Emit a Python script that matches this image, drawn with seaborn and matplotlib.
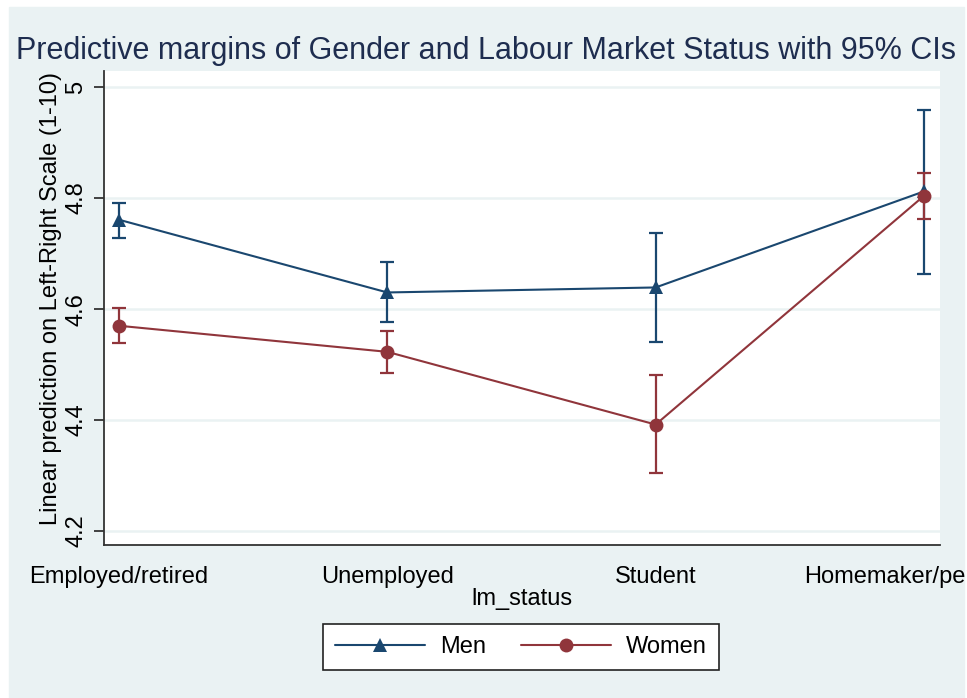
import matplotlib
matplotlib.use("Agg")
import matplotlib.pyplot as plt
import numpy as np
import pandas as pd
import seaborn as sns

# margins
status = ["Employed/retired", "Unemployed", "Student", "Homemaker/pensioner"]
men = [4.761, 4.630, 4.639, 4.812]
men_lo = [4.729, 4.576, 4.541, 4.664]
men_hi = [4.792, 4.684, 4.737, 4.959]
women = [4.570, 4.523, 4.392, 4.804]
women_lo = [4.539, 4.485, 4.304, 4.762]
women_hi = [4.602, 4.561, 4.481, 4.846]

df = pd.DataFrame({
    "pos": list(range(len(status))) * 2,
    "margin": men + women,
    "lo": men_lo + women_lo,
    "hi": men_hi + women_hi,
    "gender": ["Men"] * 4 + ["Women"] * 4,
})

colors = {"Men": "#1A476F", "Women": "#90353B"}
bg = "#EAF2F3"

sns.set_style("white")
plt.rcParams["font.family"] = ["Liberation Sans", "DejaVu Sans"]
plt.rcParams["text.color"] = "black"
plt.rcParams["axes.labelcolor"] = "black"
plt.rcParams["xtick.labelcolor"] = "black"
plt.rcParams["ytick.labelcolor"] = "black"

fig = plt.figure(figsize=(9.67, 6.98), dpi=100)
fig.patch.set_facecolor("white")
fig.patches.append(plt.Rectangle((9 / 967, 0), (964 - 9) / 967, 1 - 7 / 698,
                                 transform=fig.transFigure, color=bg, zorder=-10))

ax = fig.add_axes([104 / 967, 1 - 545 / 698, (940 - 104) / 967, (545 - 71) / 698])
ax.set_facecolor("white")

# error bars first so the markers sit on top
for g, sub in df.groupby("gender"):
    ax.errorbar(sub["pos"], sub["margin"],
                yerr=[sub["margin"] - sub["lo"], sub["hi"] - sub["margin"]],
                fmt="none", ecolor=colors[g], elinewidth=1.6, capsize=5, capthick=1.6, zorder=3)

sns.lineplot(data=df, x="pos", y="margin", hue="gender", style="gender",
             markers={"Men": "^", "Women": "o"}, dashes=False, palette=colors,
             linewidth=1.5, markersize=10, markeredgewidth=0, ax=ax, zorder=4)

ax.set_xlim(-0.056, 3.06)
ax.set_ylim(4.175, 5.029)
ax.set_xticks(range(len(status)))
ax.set_xticklabels(status)
ax.set_yticks([4.2, 4.4, 4.6, 4.8, 5.0])
ax.set_yticklabels(["4.2", "4.4", "4.6", "4.8", "5"])
ax.grid(axis="y", color=bg, linewidth=1.8)
ax.set_axisbelow(True)

for s in ["top", "right"]:
    ax.spines[s].set_visible(False)
for s in ["left", "bottom"]:
    ax.spines[s].set_color("#333333")
    ax.spines[s].set_linewidth(1.3)

ax.tick_params(axis="x", length=9, width=1.3, color="#333333", pad=6, labelsize=17)
ax.tick_params(axis="y", length=7, width=1.3, color="#333333", pad=5, labelsize=17,
               labelrotation=90, left=True)
for lab in ax.get_yticklabels():
    lab.set_va("center")
    lab.set_ha("right")

ax.set_xlabel("lm_status", fontsize=17)
ax.xaxis.set_label_coords(0.5, -0.09)
ax.xaxis.label.set_va("top")
ax.set_ylabel("Linear prediction on Left-Right Scale (1-10)", fontsize=17)
ax.yaxis.set_label_coords(-0.05, 0.52)

fig.text(0.503, 1 - 51 / 698, "Predictive margins of Gender and Labour Market Status with 95% CIs",
         ha="center", va="center", fontsize=22, color="#1E2D4F")

handles, labels = ax.get_legend_handles_labels()
ax.get_legend().remove()
leg = fig.legend(handles, labels, loc="center", bbox_to_anchor=(521 / 967, 1 - 647 / 698),
                 ncol=2, frameon=True, fancybox=False, fontsize=17, handlelength=3.8,
                 columnspacing=1.5, borderpad=0.5, handletextpad=0.65)
leg.get_frame().set_edgecolor("#222222")
leg.get_frame().set_linewidth(1.2)
leg.get_frame().set_facecolor("white")
leg.get_frame().set_alpha(1)

fig.savefig("out.png", dpi=100, facecolor=fig.get_facecolor())
